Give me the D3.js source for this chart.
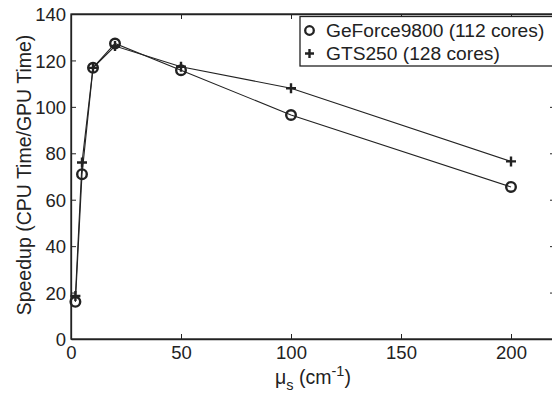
<!DOCTYPE html>
<html><head><meta charset="utf-8">
<script src="https://cdn.jsdelivr.net/npm/d3@7"></script>
<style>
body{margin:0;background:#fff;}
svg{display:block;font-family:"Liberation Sans",Arial,sans-serif;}
</style></head><body>
<svg id="c" width="552" height="396"></svg>
<script>
const xValues = [2, 5, 10, 20, 50, 100, 200];
const geforce = [16, 71, 116.8, 127.3, 115.8, 96.5, 65.5];
const gts250 = [18.5, 76, 116.8, 126.2, 117.3, 108, 76.5];
const seriesNames = ["GeForce9800 (112 cores)", "GTS250 (128 cores)"];
const xTicks = [0, 50, 100, 150, 200];
const yTicks = [0, 20, 40, 60, 80, 100, 120, 140];

const svg = d3.select("#c");
const L = 71, T = 14, B = 339, R = 555;
const x = d3.scaleLinear().domain([0, 220]).range([L, R]);
const y = d3.scaleLinear().domain([0, 140]).range([B, T]);
const ink = "#222";
const ff = '"Liberation Sans",Arial,sans-serif';

svg.append("rect").attr("x", L).attr("y", T).attr("width", R - L).attr("height", B - T)
  .attr("fill", "none").attr("stroke", ink).attr("stroke-width", 1.3);

const fs = "18.5px";
const gx = svg.append("g").attr("transform", `translate(0,${B})`)
  .call(d3.axisBottom(x).tickValues(xTicks).tickSizeInner(-5).tickSizeOuter(0).tickPadding(7));
const gt = svg.append("g").attr("transform", `translate(0,${T})`)
  .call(d3.axisTop(x).tickValues(xTicks).tickSizeInner(-5).tickSizeOuter(0).tickFormat(""));
const gy = svg.append("g").attr("transform", `translate(${L},0)`)
  .call(d3.axisLeft(y).tickValues(yTicks).tickSizeInner(-5).tickSizeOuter(0).tickPadding(5));
const gr = svg.append("g").attr("transform", `translate(${R},0)`)
  .call(d3.axisRight(y).tickValues(yTicks).tickSizeInner(-5).tickSizeOuter(0).tickFormat(""));
[gx, gt, gy, gr].forEach(g => {
  g.select(".domain").attr("stroke", ink).attr("stroke-width", 1.3);
  g.selectAll(".tick line").attr("stroke", ink).attr("stroke-width", 1);
  g.selectAll(".tick text").attr("fill", ink).style("font-size", fs).style("font-family", ff);
});
gx.selectAll(".tick text").attr("dy", "0.71em");
gy.selectAll(".tick text").attr("dy", "0.36em");

const line = d3.line().x((d, i) => x(xValues[i])).y(d => y(d));
[geforce, gts250].forEach(s => {
  svg.append("path").datum(s).attr("d", line).attr("fill", "none")
    .attr("stroke", ink).attr("stroke-width", 1.1);
});

svg.append("g").selectAll("circle").data(geforce).join("circle")
  .attr("cx", (d, i) => x(xValues[i])).attr("cy", d => y(d)).attr("r", 4.8)
  .attr("fill", "none").attr("stroke", ink).attr("stroke-width", 2.4);
const plus = (g, cx, cy, s) => {
  g.append("path").attr("d", `M${cx - s},${cy}H${cx + s}M${cx},${cy - s}V${cy + s}`)
    .attr("stroke", ink).attr("stroke-width", 2.4).attr("fill", "none");
};
const pg = svg.append("g");
gts250.forEach((d, i) => plus(pg, x(xValues[i]), y(d), 5));

const lg = svg.append("g");
lg.append("rect").attr("x", 300).attr("y", 16.5).attr("width", 262).attr("height", 49.5)
  .attr("fill", "#fff").attr("stroke", ink).attr("stroke-width", 1.3);
lg.append("circle").attr("cx", 309.5).attr("cy", 30.5).attr("r", 4.3)
  .attr("fill", "none").attr("stroke", ink).attr("stroke-width", 2.3);
plus(lg, 309.5, 53.5, 4.5);
lg.selectAll("text").data(seriesNames).join("text")
  .attr("x", 326).attr("y", (d, i) => 37 + i * 23)
  .attr("fill", ink).style("font-size", "19.2px").text(d => d);

svg.append("text").attr("transform", `translate(31,${175}) rotate(-90)`)
  .attr("text-anchor", "middle").attr("fill", ink).style("font-size", "19.5px")
  .text("Speedup (CPU Time/GPU Time)");
const xl = svg.append("text").attr("x", 313).attr("y", 384)
  .attr("text-anchor", "middle").attr("fill", ink).style("font-size", "19.5px");
xl.append("tspan").text("μ");
xl.append("tspan").attr("dy", 6).style("font-size", "14.5px").text("s");
xl.append("tspan").attr("dy", -6).text(" (cm");
xl.append("tspan").attr("dy", -8).style("font-size", "14.5px").text("-1");
xl.append("tspan").attr("dy", 8).text(")");
</script>
</body></html>
